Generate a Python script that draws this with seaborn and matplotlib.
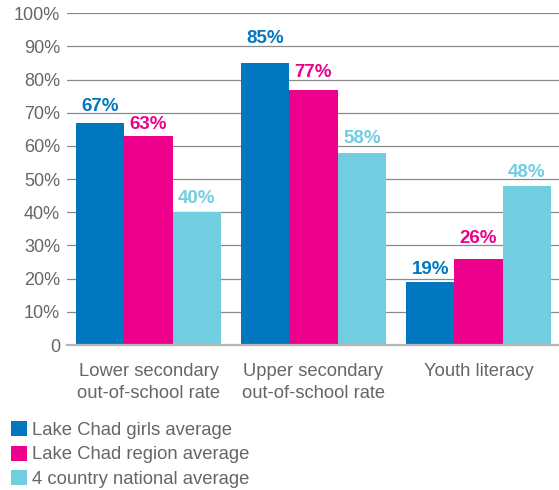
import matplotlib
matplotlib.use("Agg")
import matplotlib.pyplot as plt
import seaborn as sns
import pandas as pd
from matplotlib.patches import Patch

categories = ["Lower secondary\nout-of-school rate",
              "Upper secondary\nout-of-school rate",
              "Youth literacy"]
series = ["Lake Chad girls average",
          "Lake Chad region average",
          "4 country national average"]
girls = [67, 85, 19]
region = [63, 77, 26]
national = [40, 58, 48]
colors = ["#0077BF", "#EC008C", "#71CEE0"]
yticks = [0, 10, 20, 30, 40, 50, 60, 70, 80, 90, 100]
ytick_labels = ["0", "10%", "20%", "30%", "40%", "50%", "60%", "70%", "80%", "90%", "100%"]
# label gaps above bar tops (in percentage points), per series per category
label_gap = [[3.6, 6.1, 2.4], [2.0, 3.7, 4.8], [2.8, 2.9, 2.7]]

rows = []
for s, vals in zip(series, [girls, region, national]):
    for c, v in zip(categories, vals):
        rows.append({"category": c, "series": s, "value": v})
df = pd.DataFrame(rows)

sns.set_theme(style="white")
plt.rcParams["font.family"] = ["Liberation Sans", "DejaVu Sans"]

fig = plt.figure(figsize=(5.59, 4.90), dpi=100)
ax = fig.add_axes([67 / 559, 1 - 345 / 490, 1 - 67 / 559, (345 - 13.3) / 490])

ax.set_axisbelow(True)
ax.yaxis.grid(True, color="#8a8a8a", linewidth=0.9)
ax.xaxis.grid(False)

sns.barplot(data=df, x="category", y="value", hue="series", order=categories,
            hue_order=series, palette=colors, saturation=1, width=0.879,
            gap=0, ax=ax, legend=False, errorbar=None, linewidth=0)

for si, cont in enumerate(ax.containers):
    for ci, bar in enumerate(cont):
        v = bar.get_height()
        ax.text(bar.get_x() + bar.get_width() / 2, v + label_gap[si][ci],
                f"{v:.0f}%", ha="center", va="baseline", color=colors[si],
                fontsize=13.5, fontweight="bold")

ax.set_ylim(0, 100)
ax.set_xlim(-0.494, 2.488)
ax.set_yticks(yticks)
ax.set_yticklabels(ytick_labels)
ax.set_xlabel("")
ax.set_ylabel("")
ax.tick_params(axis="both", length=0, labelsize=13, colors="#666666")
ax.tick_params(axis="y", pad=5)
ax.tick_params(axis="x", pad=13)
for lab in ax.get_xticklabels():
    lab.set_linespacing(1.38)
    lab.set_fontsize(13.2)

for sp in ["top", "right", "left"]:
    ax.spines[sp].set_visible(False)
ax.spines["bottom"].set_color("#b5b5b5")
ax.spines["bottom"].set_linewidth(1.6)

handles = [Patch(facecolor=c, edgecolor="none") for c in colors]
fig.legend(handles, series, loc="upper left", bbox_to_anchor=(11 / 559, 1 - 421 / 490),
           frameon=False, fontsize=13.3, handlelength=0.86, handleheight=0.86,
           handletextpad=0.26, labelspacing=0.37, borderpad=0, borderaxespad=0,
           labelcolor="#666666")

fig.savefig("out.png", dpi=100)
